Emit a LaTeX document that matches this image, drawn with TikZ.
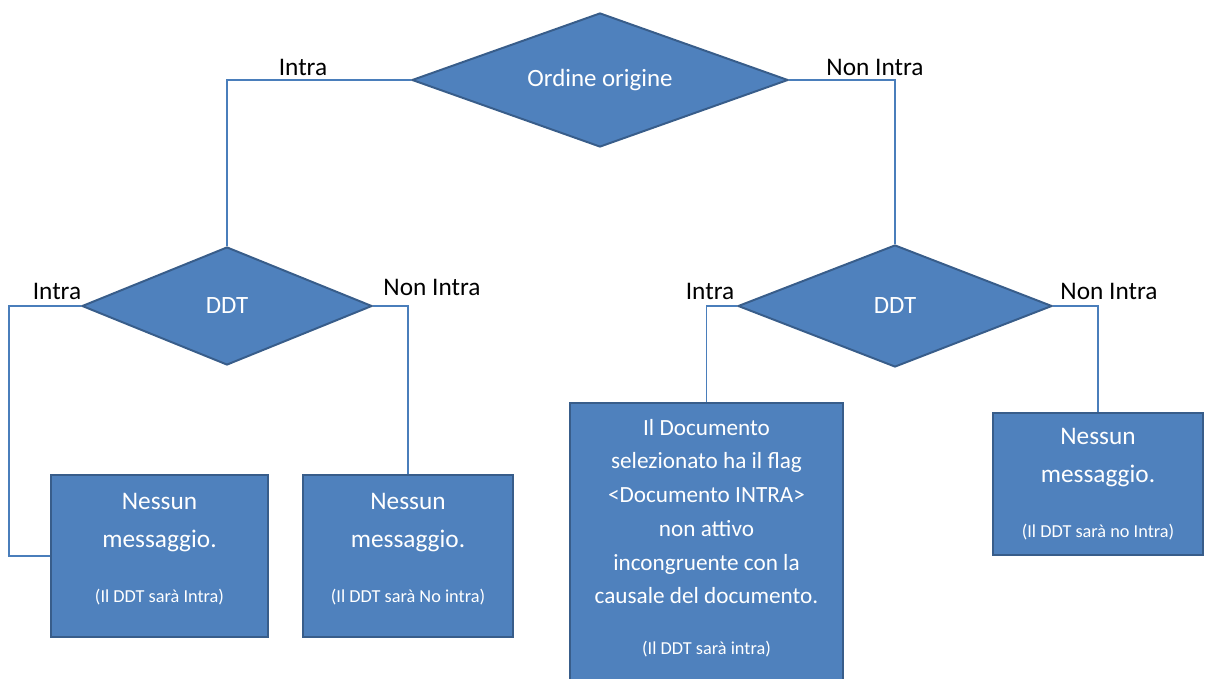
\documentclass[tikz,border=0pt]{standalone}
\usepackage{fontspec}
\setmainfont{Carlito}
\usetikzlibrary{
  positioning,
  shapes.geometric
}
\definecolor{flowfill}{HTML}{4F81BD}
\definecolor{flowedge}{HTML}{385D8A}
\definecolor{flowlink}{HTML}{4A7EBB}
\newcommand{\notesize}{\fontsize{13}{15}\selectfont}

\begin{document}
\begin{tikzpicture}[
  x=0.025cm, y=-0.025cm,
  dec/.style={diamond, draw=flowedge, line width=1.4pt, fill=flowfill, inner sep=0pt,
              text=white, font=\fontsize{17.7}{20}\selectfont},
  msg/.style={draw=flowedge, line width=1.4pt, fill=flowfill, text=white,
              align=center, font=\fontsize{18}{27}\selectfont},
  msgtxt/.style={inner sep=0pt, text=white, align=center, font=\fontsize{16.5}{24}\selectfont},
  lbl/.style={font=\fontsize{18}{20}\selectfont},
  link/.style={draw=flowlink, line width=1pt},
]
  \useasboundingbox (0,0) rectangle (1215,678);

  % Decisions
  \node[dec, aspect=2.8, minimum width=9.4cm, minimum height=3.35cm] (orig) at (600,80) {Ordine origine};
  \node[dec, aspect=2.4, minimum width=7.25cm, minimum height=2.95cm] (ddtA) at (227,306) {DDT};
  \node[dec, aspect=2.5, minimum width=7.85cm, minimum height=3.05cm] (ddtB) at (895,306) {DDT};

  % Outcomes
  \node[msg, minimum width=5.425cm, minimum height=4.05cm, text depth=12pt] (msgA) at (159.5,556)
    {Nessun\\messaggio.\\[12pt]{\notesize (Il DDT sarà Intra)}};
  \node[msg, minimum width=5.25cm, minimum height=4.05cm, text depth=12pt] (msgB) at (408,556)
    {Nessun\\messaggio.\\[12pt]{\notesize (Il DDT sarà No intra)}};
  \node[msg, minimum width=6.825cm, minimum height=7.5cm, anchor=north] (msgC) at (706.5,402) {};
  \node[msgtxt, below=0.42cm of msgC.north] (msgCtext)
    {Il Documento\\selezionato ha il flag\\<Documento INTRA>\\non attivo\\incongruente con la\\causale del documento.\\[12pt]{\notesize (Il DDT sarà intra)}};
  \node[msg, minimum width=5.25cm, minimum height=3.55cm] (msgD) at (1098,484)
    {Nessun\\messaggio.\\[12pt]{\notesize (Il DDT sarà no Intra)}};

  % Connectors
  \draw[link] (orig.west) -| (ddtA.north);
  \draw[link] (orig.east) -| (ddtB.north);
  \draw[link] (ddtA.west) -- ++(-72,0) |- (msgA.west);
  \draw[link] (ddtA.east) -| (msgB.north);
  \draw[link] (ddtB.west) -| (msgC.north);
  \draw[link] (ddtB.east) -| (msgD.north);

  % Branch labels
  \node[lbl] (lblA) at (303,67) {Intra};
  \node[lbl] (lblB) at (875,67) {Non Intra};
  \node[lbl] (lblC) at (57,291) {Intra};
  \node[lbl] (lblD) at (432,287) {Non Intra};
  \node[lbl] (lblE) at (710,291) {Intra};
  \node[lbl] (lblF) at (1109,291) {Non Intra};
\end{tikzpicture}
\end{document}
